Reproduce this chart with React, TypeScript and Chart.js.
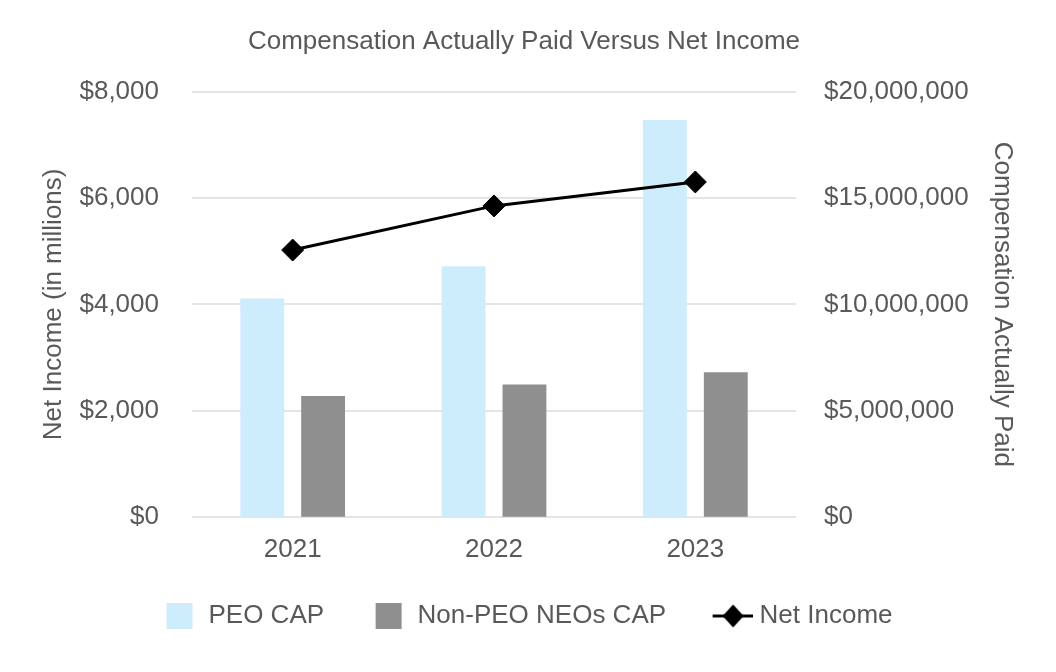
import React, { useEffect, useRef } from "react";
import { Chart, registerables } from "chart.js";

Chart.register(...registerables);

const years = ["2021", "2022", "2023"];
const peoCap = [10270000, 11790000, 18660000];
const nonPeoCap = [5690000, 6240000, 6810000];
const netIncome = [5020, 5850, 6300];
const seriesLabels = ["PEO CAP", "Non-PEO NEOs CAP", "Net Income"];

const FONT = "'Liberation Sans', Arial, Helvetica, sans-serif";
const TXT = "#595959";
const BLUE = "#cdecfc";
const GREY = "#8f8f8f";

function fmt(v: number) {
  return "$" + Math.round(v).toString().replace(/\B(?=(\d{3})+(?!\d))/g, ",");
}

export default function App() {
  const ref = useRef<HTMLCanvasElement>(null);
  useEffect(() => {
    if (!ref.current) return;
    const mk = (w: number, draw: (g: CanvasRenderingContext2D) => void) => {
      const c = document.createElement("canvas");
      c.width = w;
      c.height = 28;
      const g = c.getContext("2d")!;
      draw(g);
      return c;
    };
    const sq = (color: string) =>
      mk(40, (g) => {
        g.fillStyle = color;
        g.fillRect(11, 1, 26, 26);
      });
    const lineIcon = mk(52, (g) => {
      g.strokeStyle = "#000";
      g.lineWidth = 3;
      g.beginPath();
      g.moveTo(12, 14);
      g.lineTo(52, 14);
      g.stroke();
      g.fillStyle = "#000";
      g.beginPath();
      g.moveTo(22, 14);
      g.lineTo(32.5, 2.5);
      g.lineTo(43, 14);
      g.lineTo(32.5, 25.5);
      g.closePath();
      g.fill();
    });
    const icons = [sq(BLUE), sq(GREY), lineIcon];

    const chart = new Chart(ref.current, {
      type: "bar",
      data: {
        labels: years,
        datasets: [
          {
            type: "bar",
            label: seriesLabels[0],
            data: peoCap,
            backgroundColor: BLUE,
            yAxisID: "y1",
            order: 1,
            categoryPercentage: 0.605,
            barPercentage: 0.72,
          },
          {
            type: "bar",
            label: seriesLabels[1],
            data: nonPeoCap,
            backgroundColor: GREY,
            yAxisID: "y1",
            order: 1,
            categoryPercentage: 0.605,
            barPercentage: 0.72,
          },
          {
            type: "line",
            label: seriesLabels[2],
            data: netIncome,
            borderColor: "#000",
            borderWidth: 3,
            backgroundColor: "#000",
            pointStyle: "rectRot",
            pointRadius: 11,
            pointBackgroundColor: "#000",
            pointBorderColor: "#000",
            pointBorderWidth: 1,
            tension: 0,
            yAxisID: "y",
            order: 0,
          } as any,
        ],
      },
      options: {
        responsive: true,
        maintainAspectRatio: false,
        animation: false,
        layout: { padding: { left: 0, right: 8, top: 0, bottom: 33 } },
        font: { family: FONT },
        plugins: {
          tooltip: { enabled: false },
          title: {
            display: true,
            text: "Compensation Actually Paid Versus Net Income",
            color: TXT,
            font: { family: FONT, size: 26, weight: "normal" as any },
            padding: { top: 26.4, bottom: 33.9 },
          },
          legend: {
            position: "bottom",
            labels: {
              usePointStyle: true,
              pointStyleWidth: 40,
              padding: 40.5,
              color: TXT,
              font: { family: FONT, size: 26 },
              generateLabels: () =>
                seriesLabels.map((t, i) => ({
                  text: t,
                  pointStyle: icons[i] as any,
                  fillStyle: "transparent",
                  strokeStyle: "transparent",
                  lineWidth: 0,
                  hidden: false,
                  datasetIndex: i,
                  fontColor: TXT,
                })),
            },
          },
        },
        scales: {
          x: {
            offset: true,
            grid: { display: false, drawTicks: false },
            border: { display: false },
            ticks: {
              color: TXT,
              padding: 19.3,
              font: { family: FONT, size: 26, lineHeight: 1.0 },
            },
            afterFit: (s: any) => {
              s.height = 45.3;
            },
          },
          y: {
            position: "left",
            min: 0,
            max: 8000,
            ticks: {
              stepSize: 2000,
              color: TXT,
              padding: 33,
              font: { family: FONT, size: 26 },
              callback: (v: any) => fmt(Number(v)),
            },
            grid: { color: "#e4e4e4", lineWidth: 2, drawTicks: false },
            border: { display: false },
            title: {
              display: true,
              text: "Net Income (in millions)",
              color: TXT,
              font: { family: FONT, size: 26 },
              padding: { top: 38, bottom: 0 },
            },
            afterFit: (s: any) => {
              s.width = 192;
            },
          },
          y1: {
            position: "right",
            min: 0,
            max: 20000000,
            ticks: {
              stepSize: 5000000,
              color: TXT,
              padding: 28,
              font: { family: FONT, size: 26 },
              callback: (v: any) => fmt(Number(v)),
            },
            grid: { drawOnChartArea: false, drawTicks: false },
            border: { display: false },
            title: {
              display: true,
              text: "Compensation Actually Paid",
              color: TXT,
              font: { family: FONT, size: 26 },
              padding: { top: 30.4, bottom: 0 },
            },
            afterFit: (s: any) => {
              s.width = 252;
            },
          },
        },
      } as any,
    });
    return () => chart.destroy();
  }, []);
  return (
    <div style={{ position: "fixed", left: 0, top: 0, width: 1056, height: 672 }}>
      <canvas ref={ref} />
    </div>
  );
}
